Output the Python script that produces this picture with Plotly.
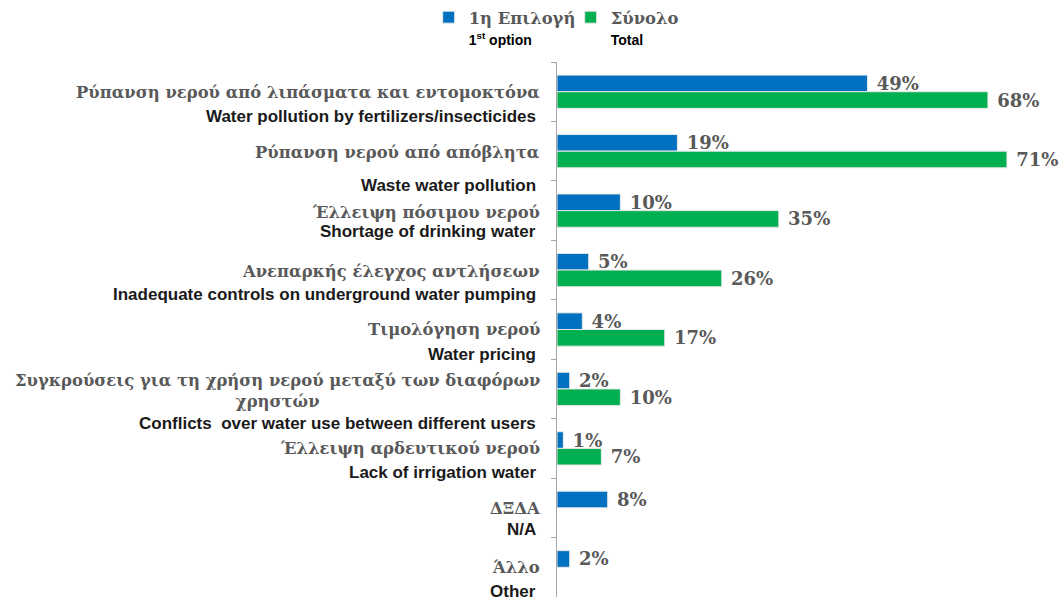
import plotly.graph_objects as go

# categories (Greek label / English label)
cats_gr = [
    'Ρύπανση νερού από λιπάσματα και εντομοκτόνα',
    'Ρύπανση νερού από απόβλητα',
    'Έλλειψη πόσιμου νερού',
    'Ανεπαρκής έλεγχος αντλήσεων',
    'Τιμολόγηση νερού',
    'Συγκρούσεις για τη χρήση νερού μεταξύ των διαφόρων<br>χρηστών',
    'Έλλειψη αρδευτικού νερού',
    'ΔΞΔΑ',
    'Άλλο',
]
cats_en = [
    'Water pollution by fertilizers/insecticides',
    'Waste water pollution',
    'Shortage of drinking water',
    'Inadequate controls on underground water pumping',
    'Water pricing',
    'Conflicts  over water use between different users',
    'Lack of irrigation water',
    'N/A',
    'Other',
]
first_option = [49, 19, 10, 5, 4, 2, 1, 8, 2]
total = [68, 71, 35, 26, 17, 10, 7, None, None]

# pixel shifts of the labels relative to each category centre
en_shift = [-25, -34, -21, -24, -25, -35, -24, -22, -24]
gr_shift = [-1, -1, -2, -1, 0, -2, 0, -1, 0]

GREY = '#595959'
SERIF = 'DejaVu Serif'
SANS = 'Liberation Sans'
SUB = "<br><span style='font-family:Liberation Sans;font-size:14px;color:#000000'>{}</span>"

def pct(vals):
    return ['\u00a0{}%'.format(v) if v is not None else '' for v in vals]

fig = go.Figure()
fig.add_trace(go.Bar(
    y=cats_gr, x=first_option, orientation='h',
    name='1η Επιλογή' + SUB.format('1<sup>st</sup> option'),
    marker=dict(color='#0070C0', line=dict(color='#E8E8E8', width=1)),
    text=pct(first_option), textposition='outside', cliponaxis=False,
    constraintext='none',
    textfont=dict(family=SERIF, size=18, color=GREY, weight='bold'),
))
fig.add_trace(go.Bar(
    y=cats_gr, x=total, orientation='h',
    name='Σύνολο' + SUB.format('Total'),
    marker=dict(color='#00B050', line=dict(color='#E8E8E8', width=1)),
    text=pct(total), textposition='outside', cliponaxis=False,
    constraintext='none',
    textfont=dict(family=SERIF, size=18, color=GREY, weight='bold'),
))

annotations = []
for i in range(len(cats_gr)):
    annotations.append(dict(
        xref='paper', yref='y', x=-0.03, y=cats_gr[i], xanchor='right',
        yanchor='middle', yshift=gr_shift[i], showarrow=False, align='center',
        text=cats_gr[i], font=dict(family=SERIF, size=16.4, color=GREY, weight='bold'),
    ))
    annotations.append(dict(
        xref='paper', yref='y', x=-0.038, y=cats_gr[i], xanchor='right',
        yanchor='middle', yshift=en_shift[i], showarrow=False,
        text=cats_en[i], font=dict(family=SANS, size=17, color='#1A1A1A', weight='bold'),
    ))

fig.update_layout(
    width=1064, height=602,
    margin=dict(l=557, r=0, t=62, b=5, autoexpand=False),
    paper_bgcolor='white', plot_bgcolor='white',
    barmode='group', bargap=0.44, bargroupgap=0,
    showlegend=True,
    legend=dict(
        orientation='h', xref='container', yref='container',
        x=0.4029, y=1.0, xanchor='left', yanchor='top',
        traceorder='normal', valign='top', entrywidth=97,
        font=dict(family=SERIF, size=16.4, color=GREY, weight='bold'),
    ),
    xaxis=dict(range=[0, 80], visible=False, showgrid=False),
    yaxis=dict(
        range=[len(cats_gr) - 0.5, -0.5], showticklabels=False, showgrid=False,
        showline=True, linecolor='#A6A6A6', linewidth=1,
        ticks='outside', tickson='boundaries', ticklen=5, tickcolor='#A6A6A6',
    ),
    annotations=annotations,
)

fig.write_html('out.html', config={'displayModeBar': False},
               post_script="document.body.style.margin='0';")
